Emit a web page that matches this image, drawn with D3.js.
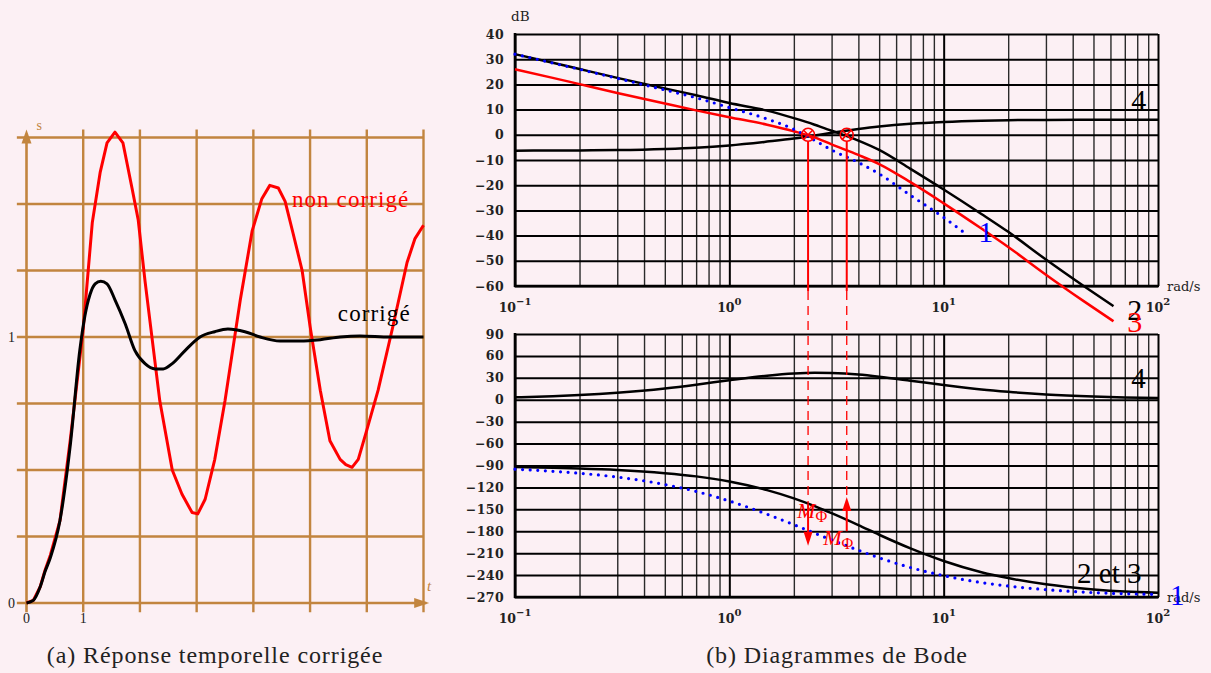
<!DOCTYPE html>
<html>
<head>
<meta charset="utf-8">
<script src="https://cdn.jsdelivr.net/npm/d3@7"></script>
<style>
body{margin:0;background:#fcf0f4;}
svg{display:block;}
</style>
</head>
<body>
<svg id="chart" width="1211" height="673"></svg>
<script>
// (a) step responses
const tNonCorr = [0, 0.12, 0.24, 0.33, 0.42, 0.59, 0.77, 1.0, 1.16, 1.30, 1.42, 1.56, 1.70, 1.86, 1.97, 2.09, 2.35, 2.57, 2.74, 2.92, 3.02, 3.15, 3.32, 3.50, 3.77, 3.98, 4.15, 4.29, 4.44, 4.56, 4.70, 4.86, 5.0, 5.18, 5.35, 5.53, 5.63, 5.74, 5.85, 6.0, 6.2, 6.45, 6.71, 6.85, 7.0]
const sNonCorr = [0, 0.01, 0.06, 0.125, 0.18, 0.31, 0.61, 1.03, 1.43, 1.62, 1.73, 1.77, 1.73, 1.56, 1.44, 1.21, 0.76, 0.50, 0.41, 0.34, 0.335, 0.39, 0.54, 0.76, 1.14, 1.40, 1.52, 1.57, 1.56, 1.51, 1.39, 1.25, 1.04, 0.80, 0.61, 0.54, 0.52, 0.51, 0.54, 0.65, 0.80, 1.03, 1.28, 1.37, 1.42]
const tCorr = [0, 0.12, 0.24, 0.33, 0.42, 0.59, 0.77, 0.94, 1.03, 1.12, 1.21, 1.31, 1.42, 1.56, 1.74, 1.91, 2.09, 2.27, 2.41, 2.57, 2.80, 3.06, 3.32, 3.55, 3.85, 4.12, 4.47, 4.82, 5.18, 5.53, 5.88, 6.41, 7.0]
const sCorr = [0, 0.01, 0.06, 0.12, 0.17, 0.31, 0.59, 0.95, 1.08, 1.16, 1.20, 1.21, 1.20, 1.14, 1.05, 0.95, 0.90, 0.88, 0.88, 0.90, 0.95, 1.0, 1.02, 1.03, 1.02, 1.0, 0.985, 0.985, 0.99, 1.0, 1.004, 1.0, 1.0]
const timeGrid = [1, 2, 3, 4, 5, 6, 7]
const levelGrid = [0.25, 0.5, 0.75, 1, 1.25, 1.5, 1.75]
const timeLabels = [0, 1]
const levelLabels = [0, 1]

// (b) Bode diagrams
const wMag1 = [0.1, 0.15, 0.2, 0.3, 0.5, 0.7, 1, 1.5, 2, 2.5, 3, 4, 5, 7, 10, 13]
const mag1 = [32, 28.5, 26, 22.4, 17.8, 14.7, 10.8, 6.3, 2.2, -2.2, -6.0, -11.0, -15.5, -24, -32.8, -40]
const wMag23 = [0.1, 0.15, 0.2, 0.3, 0.5, 0.7, 1, 1.5, 2, 2.5, 3, 4, 5, 7, 10, 15, 20, 30, 45, 62]
const mag2 = [32, 28.6, 26.1, 22.6, 18.4, 15.7, 12.6, 9.6, 6.6, 4.0, 1.6, -2.3, -6.0, -13.5, -21.7, -31.4, -38.5, -49.5, -60, -68]
const mag3 = [26, 22.6, 20.1, 16.6, 12.4, 9.7, 7.0, 4.0, 1.4, -1.0, -3.8, -8.0, -11.6, -18.8, -27.2, -37.2, -44.5, -55.5, -66, -74]
const wFull = [0.1, 0.15, 0.2, 0.3, 0.5, 0.7, 1, 1.5, 2, 2.5, 3, 4, 5, 7, 10, 15, 20, 30, 50, 70, 100]
const mag4 = [-6.3, -6.25, -6.2, -6.05, -5.6, -5.1, -4.2, -2.7, -1.5, -0.3, 0.8, 2.3, 3.3, 4.4, 5.1, 5.6, 5.8, 5.9, 6.0, 6.0, 6.0]
const ph1 = [-95, -97.9, -100.6, -105.8, -116, -125.5, -138.6, -156.7, -171, -182.6, -191.9, -206, -216.3, -229.6, -240.8, -250.2, -255, -259.9, -264, -265.5, -266.5]
const ph23 = [-92, -93.1, -94.1, -96.1, -100.5, -104.9, -111.9, -123.7, -135, -145.6, -155.3, -171.6, -184.8, -203.5, -220.7, -236.1, -244.1, -252.6, -259.6, -262.6, -264.2]
const ph4 = [3.3, 4.9, 6.5, 9.7, 15.5, 20.6, 26.7, 33, 36, 37, 36.6, 34.4, 31.5, 26.1, 20.1, 14.1, 10.9, 7.3, 4.4, 3.1, 2.3]
const dbTicks = [40, 30, 20, 10, 0, -10, -20, -30, -40, -50, -60]
const phTicks = [90, 60, 30, 0, -30, -60, -90, -120, -150, -180, -210, -240, -270]
const decadeExp = [-1, 0, 1, 2]
// crossover pulsations and phase-margin arrows [w, phase from, phase to]
const crossW = [2.33, 3.53]
const marginArrows = [[2.33, -143, -200], [3.53, -180, -133]]

const svg = d3.select('#chart')
const zip = (a, b) => a.map((v, i) => [v, b[i]])
const serif = "'Liberation Serif', serif"

// ---------------- (a) ----------------
const brown = '#c2853f'
const xT = d3.scaleLinear().domain([0, 7]).range([26.5, 423.5])
const yS = d3.scaleLinear().domain([0, 1]).range([603, 337])
const ga = svg.append('g')

ga.selectAll('.vg').data(timeGrid).enter().append('line')
    .attr('x1', d => xT(d)).attr('x2', d => xT(d))
    .attr('y1', yS(-0.035)).attr('y2', yS(1.78))
    .attr('stroke', brown).attr('stroke-width', 2.4)
ga.selectAll('.hg').data(levelGrid).enter().append('line')
    .attr('x1', xT(-0.17)).attr('x2', xT(7))
    .attr('y1', d => yS(d)).attr('y2', d => yS(d))
    .attr('stroke', brown).attr('stroke-width', 2.4)

// axes with arrows
ga.append('line').attr('x1', xT(-0.17)).attr('x2', xT(7.05)).attr('y1', yS(0)).attr('y2', yS(0))
    .attr('stroke', brown).attr('stroke-width', 2.6)
ga.append('line').attr('x1', xT(0)).attr('x2', xT(0)).attr('y1', yS(-0.035)).attr('y2', yS(1.75))
    .attr('stroke', brown).attr('stroke-width', 2.6)
ga.append('path').attr('fill', brown)
    .attr('d', `M${xT(7.1)},${yS(0)} L${xT(7.1) - 15},${yS(0) - 5} L${xT(7.1) - 15},${yS(0) + 5} Z`)
ga.append('path').attr('fill', brown)
    .attr('d', `M${xT(0)},${yS(1.78)} L${xT(0) - 5},${yS(1.78) + 14} L${xT(0) + 5},${yS(1.78) + 14} Z`)

ga.append('text').attr('x', xT(7.06)).attr('y', yS(0) - 12).text('t')
    .style('font-family', serif).style('font-style', 'italic').style('font-size', '15px').attr('fill', brown)
ga.append('text').attr('x', xT(0) + 10).attr('y', yS(1.78)).text('s')
    .style('font-family', serif).style('font-size', '14px').attr('fill', brown)

ga.selectAll('.yl').data(levelLabels).enter().append('text')
    .attr('x', 15).attr('y', d => yS(d) + 5).attr('text-anchor', 'end').text(d => d)
    .style('font-family', serif).style('font-size', '14px').attr('fill', '#222')
ga.selectAll('.xl').data(timeLabels).enter().append('text')
    .attr('x', d => xT(d)).attr('y', yS(0) + 20).attr('text-anchor', 'middle').text(d => d)
    .style('font-family', serif).style('font-size', '14px').attr('fill', '#222')

let lineT = d3.line().x(d => xT(d[0])).y(d => yS(d[1]))
ga.append('path').datum(zip(tNonCorr, sNonCorr)).attr('d', lineT)
    .attr('fill', 'none').attr('stroke', 'red').attr('stroke-width', 3).attr('stroke-linejoin', 'round')
ga.append('path').datum(zip(tCorr, sCorr)).attr('d', lineT.curve(d3.curveMonotoneX))
    .attr('fill', 'none').attr('stroke', 'black').attr('stroke-width', 3)

ga.append('text').attr('x', xT(4.68)).attr('y', yS(1.489)).text('non corrigé')
    .style('font-family', serif).style('font-size', '23px').style('letter-spacing', '1.1px').attr('fill', 'red')
ga.append('text').attr('x', xT(5.49)).attr('y', yS(1.06)).text('corrigé')
    .style('font-family', serif).style('font-size', '23px').style('letter-spacing', '1.1px').attr('fill', 'black')

// ---------------- (b) ----------------
const xW = d3.scaleLog().domain([0.1, 100]).range([515, 1158])
const yDb = d3.scaleLinear().domain([-60, 40]).range([286, 34])
const yPh = d3.scaleLinear().domain([-270, 90]).range([597, 334])
const minorW = []
decadeExp.slice(0, 3).forEach(e => { for (let k = 2; k <= 9; k++) minorW.push(k * Math.pow(10, e)) })
const majorW = decadeExp.map(e => Math.pow(10, e))
const tickFont = "'DejaVu Serif', serif"

function bodePanel(y, ticks) {
    const g = svg.append('g')
    const [yb, yt] = y.range()
    g.append('g').attr('transform', `translate(0,${yb})`)
        .call(d3.axisBottom(xW).tickValues(minorW).tickSize(-(yb - yt)).tickFormat(''))
        .call(s => s.select('.domain').remove())
        .selectAll('line').attr('stroke', '#2a2a2a').attr('stroke-width', 1.4)
    g.append('g').attr('transform', `translate(0,${yb})`)
        .call(d3.axisBottom(xW).tickValues(majorW).tickSize(-(yb - yt)).tickFormat(''))
        .call(s => s.select('.domain').remove())
        .selectAll('line').attr('stroke', 'black').attr('stroke-width', 2)
    g.append('g').attr('transform', `translate(${xW(0.1)},0)`)
        .call(d3.axisLeft(y).tickValues(ticks).tickSize(-(xW(100) - xW(0.1))).tickFormat(''))
        .call(s => s.select('.domain').remove())
        .selectAll('line').attr('stroke', 'black').attr('stroke-width', 2)
    // frame left / bottom
    g.append('line').attr('x1', xW(0.1)).attr('x2', xW(0.1)).attr('y1', yt - 1).attr('y2', yb + 1)
        .attr('stroke', 'black').attr('stroke-width', 2.6)
    g.append('line').attr('x1', xW(0.1) - 1).attr('x2', xW(100) + 1).attr('y1', yb).attr('y2', yb)
        .attr('stroke', 'black').attr('stroke-width', 2.6)
    // tick labels
    g.append('g').attr('transform', `translate(${xW(0.1)},0)`)
        .call(d3.axisLeft(y).tickValues(ticks).tickSize(0).tickPadding(11).tickFormat(d3.format('d')))
        .call(s => s.select('.domain').remove())
        .selectAll('text').style('font-family', tickFont).style('font-weight', 'bold')
        .style('font-size', '12.5px').style('letter-spacing', '0.4px').attr('fill', '#222')
    const xl = g.selectAll('.xl').data(decadeExp).enter().append('text')
        .attr('x', d => xW(Math.pow(10, d))).attr('y', yb + 26).attr('text-anchor', 'middle')
        .style('font-family', tickFont).style('font-size', '12.5px').style('font-weight', 'bold').attr('fill', '#222')
    xl.append('tspan').text('10')
    xl.append('tspan').attr('dy', -7).style('font-size', '10px').text(d => d < 0 ? '\u2212' + (-d) : d)
    g.append('text').attr('x', xW(100) + 9).attr('y', yb + 5).text('rad/s')
        .style('font-family', tickFont).style('font-size', '13px').attr('fill', '#222')
    return g
}

const gm = bodePanel(yDb, dbTicks)
gm.append('text').attr('x', xW(0.1) - 4).attr('y', 21).text('dB')
    .style('font-family', tickFont).style('font-size', '13.5px').attr('fill', '#222')
const gp = bodePanel(yPh, phTicks)

const magLine = d3.line().x(d => xW(d[0])).y(d => yDb(d[1])).curve(d3.curveMonotoneX)
const phLine = d3.line().x(d => xW(d[0])).y(d => yPh(d[1])).curve(d3.curveMonotoneX)

gm.append('path').datum(zip(wFull, mag4)).attr('d', magLine)
    .attr('fill', 'none').attr('stroke', 'black').attr('stroke-width', 2.5)
gm.append('path').datum(zip(wMag23, mag2)).attr('d', magLine)
    .attr('fill', 'none').attr('stroke', 'black').attr('stroke-width', 2.5)
gm.append('path').datum(zip(wMag23, mag3)).attr('d', magLine)
    .attr('fill', 'none').attr('stroke', 'red').attr('stroke-width', 2.5)
gm.append('path').datum(zip(wMag1, mag1)).attr('d', magLine)
    .attr('fill', 'none').attr('stroke', 'blue').attr('stroke-width', 3.2)
    .attr('stroke-dasharray', '0 7.6').attr('stroke-linecap', 'round')

gp.append('path').datum(zip(wFull, ph4)).attr('d', phLine)
    .attr('fill', 'none').attr('stroke', 'black').attr('stroke-width', 2.5)
gp.append('path').datum(zip(wFull, ph23)).attr('d', phLine)
    .attr('fill', 'none').attr('stroke', 'black').attr('stroke-width', 2.5)
gp.append('path').datum(zip(wFull, ph1)).attr('d', phLine)
    .attr('fill', 'none').attr('stroke', 'blue').attr('stroke-width', 3.2)
    .attr('stroke-dasharray', '0 7.6').attr('stroke-linecap', 'round')

// crossover marks and phase margin construction
const ga2 = svg.append('g')
crossW.forEach((w, i) => {
    const cx = xW(w), cy = yDb(0), r = 6.5, a = r * 0.7
    const arr = marginArrows[i]
    ga2.append('line').attr('x1', cx).attr('x2', cx).attr('y1', cy + r).attr('y2', yDb(-60) + 5)
        .attr('stroke', 'red').attr('stroke-width', 2)
    const yEnd = i === 0 ? yPh(arr[1]) : yPh(arr[2])
    ga2.append('line').attr('x1', cx).attr('x2', cx).attr('y1', yDb(-60) + 5).attr('y2', yEnd)
        .attr('stroke', 'red').attr('stroke-width', 1.3).attr('stroke-dasharray', '9 6')
    ga2.append('circle').attr('cx', cx).attr('cy', cy).attr('r', r)
        .attr('fill', 'none').attr('stroke', 'red').attr('stroke-width', 1.6)
    ga2.append('path').attr('d', `M${cx - a},${cy - a}L${cx + a},${cy + a}M${cx - a},${cy + a}L${cx + a},${cy - a}`)
        .attr('stroke', 'red').attr('stroke-width', 1.6)
    const y0 = yPh(arr[1]), y1 = yPh(arr[2]), dir = y1 > y0 ? 1 : -1
    ga2.append('line').attr('x1', cx).attr('x2', cx).attr('y1', y0).attr('y2', y1 - dir * 10)
        .attr('stroke', 'red').attr('stroke-width', 2)
    ga2.append('path').attr('fill', 'red')
        .attr('d', `M${cx},${y1} L${cx - 4.5},${y1 - dir * 14} L${cx + 4.5},${y1 - dir * 14} Z`)
})

const mLabels = [[2.07, -162.5], [2.74, -198.8]]
mLabels.forEach(p => {
    const t = ga2.append('text').attr('x', xW(p[0])).attr('y', yPh(p[1]))
        .style('font-family', serif).attr('fill', 'red')
    t.append('tspan').text('M').style('font-style', 'italic').style('font-size', '22px')
    t.append('tspan').text('Φ').attr('dy', 4).style('font-size', '16px')
})

// curve numbers
const magNames = [['4', 75, 9.8, 'black'], ['2', 71.8, -73.6, 'black'], ['3', 71.8, -78.4, 'red'], ['1', 14.5, -42.6, 'blue']]
magNames.forEach(n => {
    ga2.append('text').attr('x', xW(n[1])).attr('y', yDb(n[2])).text(n[0])
        .style('font-family', serif).style('font-size', '30px').attr('fill', n[3])
})
const phNames = [['4', 75, 16.1, 'black'], ['2 et 3', 41.9, -250.8, 'black'], ['1', 113.7, -280.9, 'blue']]
phNames.forEach(n => {
    ga2.append('text').attr('x', xW(n[1])).attr('y', yPh(n[2])).text(n[0])
        .style('font-family', serif).style('font-size', '29px').attr('fill', n[3])
})

// captions
svg.append('text').attr('x', 215).attr('y', 663).attr('text-anchor', 'middle')
    .text('(a) Réponse temporelle corrigée')
    .style('font-family', serif).style('font-size', '24px').style('letter-spacing', '0.9px').attr('fill', '#222')
svg.append('text').attr('x', 837).attr('y', 663).attr('text-anchor', 'middle')
    .text('(b) Diagrammes de Bode')
    .style('font-family', serif).style('font-size', '24px').style('letter-spacing', '0.9px').attr('fill', '#222')
</script>
</body>
</html>
